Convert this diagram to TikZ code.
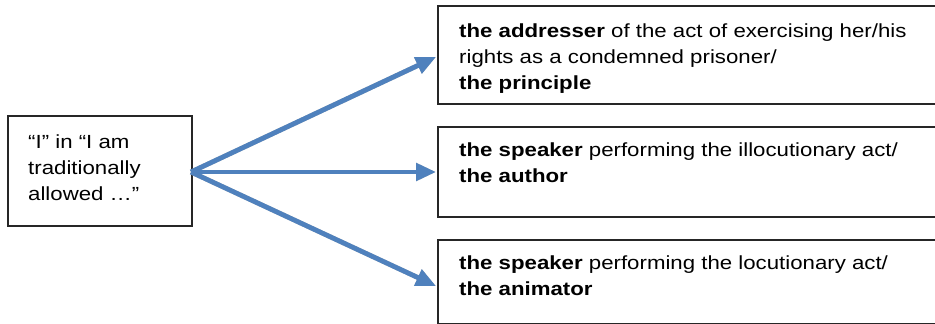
\documentclass[tikz,border=0pt]{standalone}
\usepackage{fontspec}
\setmainfont[FakeStretch=1.17]{Liberation Sans}
\usetikzlibrary{arrows.meta,calc}

\definecolor{arrowblue}{HTML}{4F81BD}
\definecolor{shadowgray}{HTML}{A6A6A6}
\definecolor{boxline}{HTML}{262626}

\tikzset{
  x=1pt, y=-1pt,
  frame/.style={draw=boxline, line width=1.8pt, rectangle, inner sep=0pt, anchor=north west},
  label/.style={anchor=base west, inner sep=0pt, align=left, font=\fontsize{19}{26}\selectfont},
  flow/.style={draw=arrowblue, line width=4.8pt, -{Triangle[length=20pt,width=17pt]}},
  flowshadow/.style={draw=shadowgray, line width=4.8pt, -{Triangle[length=20pt,width=17pt]}, opacity=0.75}
}

\begin{document}
\begin{tikzpicture}
  \useasboundingbox (0,0) rectangle (935,324);
  \clip (0,0) rectangle (935,324);
  \fill[white] (0,0) rectangle (935,324);

  % source box
  \node[frame, minimum width=184pt, minimum height=110pt] (src) at (7,115) {};
  % a multi-line label sits on the baseline of its last line
  \node[label] (srctext) at (28,200) {“I” in “I am\\traditionally\\allowed …”};

  % target boxes (running past the right edge)
  \node[frame, minimum width=520pt, minimum height=98pt] (tgtA) at (437,5) {};
  \node[frame, minimum width=520pt, minimum height=90pt] (tgtB) at (437,126) {};
  \node[frame, minimum width=520pt, minimum height=84pt] (tgtC) at (437,239) {};

  \node[label] (textA) at (459,89) {\textbf{the addresser} of the act of exercising her/his\\rights as a condemned prisoner/\\\textbf{the principle}};
  \node[label] (textB) at (459,182) {\textbf{the speaker} performing the illocutionary act/\\\textbf{the author}};
  \node[label] (textC) at (459,295) {\textbf{the speaker} performing the locutionary act/\\\textbf{the animator}};

  % arrow end points on the target boxes
  \coordinate (endA) at ($(tgtA.north west)+(-1,52)$);
  \coordinate (endB) at ($(tgtB.north west)+(-1,46)$);
  \coordinate (endC) at ($(tgtC.north west)+(-1,47)$);
  \coordinate (start) at ($(src.north west)+(184,57)$);

  % drop shadows
  \begin{scope}[shift={(2.5,2.5)}]
    \draw[flowshadow] (start) -- (endA);
    \draw[flowshadow] (start) -- (endB);
    \draw[flowshadow] (start) -- (endC);
  \end{scope}
  % arrows
  \draw[flow] (start) -- (endA);
  \draw[flow] (start) -- (endB);
  \draw[flow] (start) -- (endC);
\end{tikzpicture}
\end{document}
